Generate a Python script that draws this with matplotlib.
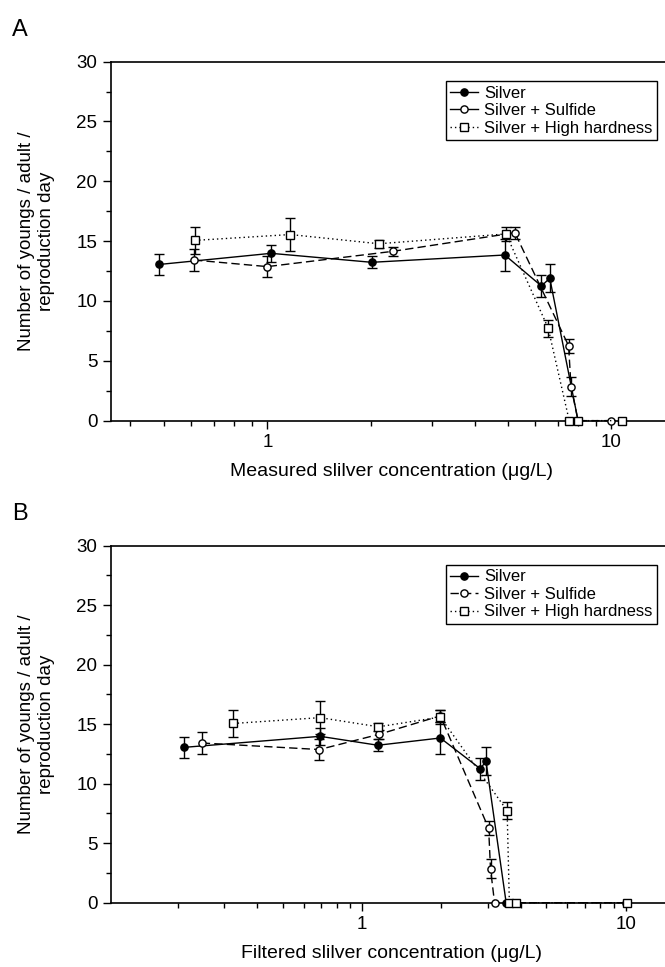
import numpy as np
import matplotlib
matplotlib.use("Agg")
import matplotlib.pyplot as plt
from matplotlib.ticker import LogLocator, NullFormatter, FuncFormatter, MultipleLocator

plt.rcParams["font.family"] = ["Liberation Sans", "DejaVu Sans"]

# ---------- data (y values shared by both panels) ----------
series_names = ["Silver", "Silver + Sulfide", "Silver + High hardness"]

silver_y = [13.05, 13.98, 13.23, 13.84, 11.25, 11.9, 0]
silver_err = [0.85, 0.7, 0.5, 1.35, 0.9, 1.15, 0]
sulfide_y = [13.42, 12.87, 14.15, 15.7, 6.25, 2.85, 0, 0]
sulfide_err = [0.9, 0.85, 0.4, 0.5, 0.6, 0.8, 0, 0]
hard_y = [15.06, 15.55, 14.78, 15.6, 7.73, 0, 0, 0]
hard_err = [1.1, 1.4, 0.35, 0.6, 0.7, 0, 0, 0]

# panel A: measured concentration
silver_xa = [0.485, 1.025, 2.01, 4.9, 6.26, 6.62, 8.0]
sulfide_xa = [0.612, 1.0, 2.32, 5.24, 7.51, 7.63, 8.0, 10.0]
hard_xa = [0.615, 1.166, 2.11, 4.94, 6.55, 7.54, 8.01, 10.7]

# panel B: filtered concentration
silver_xb = [0.21, 0.692, 1.147, 1.98, 2.81, 2.95, 3.52]
sulfide_xb = [0.246, 0.688, 1.16, 1.98, 3.02, 3.07, 3.18, 10.0]
hard_xb = [0.324, 0.692, 1.153, 1.98, 3.55, 3.62, 3.85, 10.1]

styles = [
    dict(ls="-", marker="o", mfc="black", ms=5.2),
    dict(ls=(0, (6, 3)), marker="o", mfc="white", ms=5.2),
    dict(ls=(0, (1, 2.2)), marker="s", mfc="white", ms=5.6),
]

fig = plt.figure(figsize=(6.65, 9.67), dpi=100)


def panel(rect, xs, xlim, xlabel, letter, letter_y, solid_sulfide_handle):
    ax = fig.add_axes(rect)
    ys = [silver_y, sulfide_y, hard_y]
    errs = [silver_err, sulfide_err, hard_err]
    for x, y, e, st, name in zip(xs, ys, errs, styles, series_names):
        x = np.array(x); y = np.array(y); e = np.array(e)
        m = e > 0
        ax.errorbar(x[m], y[m], yerr=e[m], fmt="none", ecolor="black",
                    elinewidth=1.0, capsize=3.5, capthick=1.0, zorder=2)
        ax.plot(x, y, color="black", lw=1.0, linestyle=st["ls"],
                marker=st["marker"], mfc=st["mfc"], mec="black", mew=1.0,
                ms=st["ms"], label=name, clip_on=False, zorder=3)
    ax.set_xscale("log")
    ax.set_xlim(*xlim)
    ax.set_ylim(0, 30)
    ax.yaxis.set_major_locator(MultipleLocator(5))
    ax.yaxis.set_minor_locator(MultipleLocator(2.5))
    ax.xaxis.set_major_locator(LogLocator(base=10))
    ax.xaxis.set_minor_locator(LogLocator(base=10, subs=np.arange(2, 10)))
    ax.xaxis.set_major_formatter(FuncFormatter(lambda v, p: f"{v:g}"))
    ax.xaxis.set_minor_formatter(NullFormatter())
    ax.tick_params(which="major", direction="out", length=6, width=1.0,
                   labelsize=13.5)
    ax.tick_params(which="minor", direction="out", length=3.5, width=1.0)
    ax.tick_params(axis="x", which="both", top=False)
    ax.tick_params(axis="y", which="both", right=False)
    for s in ax.spines.values():
        s.set_linewidth(1.2)
    ax.set_xlabel(xlabel, fontsize=14, labelpad=9)
    ax.set_ylabel("Number of youngs / adult /\nreproduction day", fontsize=13.5,
                  labelpad=15, linespacing=1.25)
    leg = ax.legend(loc="upper right", bbox_to_anchor=(0.973, 0.945),
                    borderaxespad=0, fontsize=12, handlelength=1.7,
                    fancybox=False, edgecolor="black", framealpha=1,
                    labelspacing=0.15, borderpad=0.25, handletextpad=0.35)
    leg.get_frame().set_linewidth(1.0)
    if solid_sulfide_handle:
        leg.get_lines()[1].set_linestyle("-")
    fig.text(0.018, letter_y, letter, fontsize=17, va="center", ha="left")
    return ax


panel([0.1662, 0.5650, 0.8443, 0.3713], [silver_xa, sulfide_xa, hard_xa],
      (0.35, 15), "Measured slilver concentration (μg/L)", "A", 0.969, True)
panel([0.1662, 0.0665, 0.8443, 0.3692], [silver_xb, sulfide_xb, hard_xb],
      (0.1108, 15), "Filtered slilver concentration (μg/L)", "B", 0.468, False)

fig.savefig("out.png", dpi=100)
